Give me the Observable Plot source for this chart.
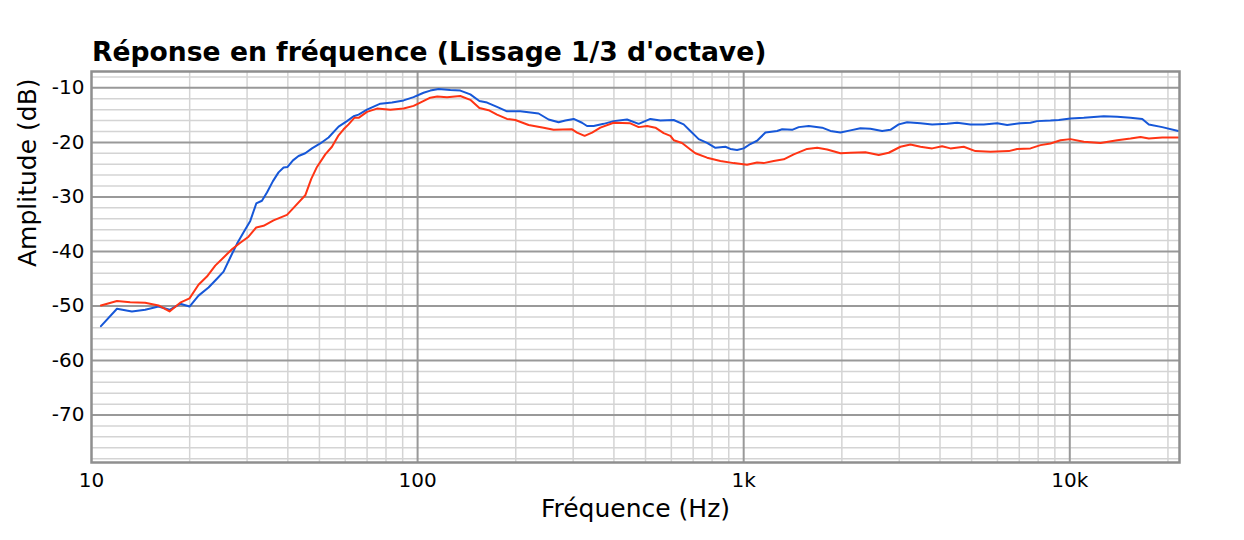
<!DOCTYPE html>
<html>
<head>
<meta charset="utf-8">
<script src="https://cdn.jsdelivr.net/npm/d3@7"></script>
<script src="https://cdn.jsdelivr.net/npm/@observablehq/plot@0.6"></script>
<style>
  body { margin: 0; background: #fff; }
  #wrap { position: relative; width: 1244px; height: 540px; }
  #wrap svg { display: block; position: absolute; left: 0; top: 0; }
  #title { position: absolute; left: 92px; top: 39px; font: bold 26.6px "DejaVu Sans", sans-serif; line-height: 1; color: #000; white-space: nowrap; z-index: 2; }
</style>
</head>
<body>
<div id="wrap"><div id="title">Réponse en fréquence (Lissage 1/3 d'octave)</div></div>
<script>
const titleText = "Réponse en fréquence (Lissage 1/3 d'octave)";
const xLabel = "Fréquence (Hz)";
const yLabel = "Amplitude (dB)";

const xTicks = [10, 100, 1000, 10000];
const xTickLabels = ["10", "100", "1k", "10k"];
const yTicks = [-10, -20, -30, -40, -50, -60, -70];
const yTickLabels = ["-10", "-20", "-30", "-40", "-50", "-60", "-70"];

const freqBlue = [10.69, 11.97, 13.30, 14.61, 16.05, 17.35, 18.71, 19.98, 21.29, 22.85,
  24.25, 25.41, 26.64, 27.93, 29.27, 30.68, 32.01, 33.32, 34.52, 36.01,
  37.46, 38.82, 39.93, 41.48, 43.15, 45.24, 47.44, 50.29, 53.33, 57.24,
  60.74, 63.65, 65.93, 69.95, 76.87, 83.48, 90.60, 97.2, 104.3, 109.4,
  116.0, 126.0, 135.2, 145.1, 154.7, 163.3, 175.2, 188.0, 206.5, 235.0,
  252.2, 270.7, 283.8, 301.0, 319.3, 330.8, 346.7, 372.1, 399.2, 438.8,
  476.4, 517.4, 555.3, 610.0, 654.6, 686.3, 727.8, 772.2, 818.9, 878.9,
  910.4, 954.4, 1000, 1048, 1099, 1166, 1266, 1312, 1408, 1475,
  1583, 1740, 1845, 1980, 2125, 2280, 2447, 2658, 2818, 2988,
  3171, 3484, 3784, 4206, 4514, 4959, 5448, 5988, 6427, 7062,
  7576, 7943, 8726, 9254, 10049, 11040, 12715, 13978, 15356, 16683,
  17475, 19209, 21506];
const dbBlue = [-53.7, -50.5, -51.0, -50.7, -50.1, -50.7, -49.6, -50.1, -48.1, -46.6,
  -45.0, -43.7, -41.1, -38.6, -36.5, -34.4, -31.2, -30.7, -29.2, -27.1,
  -25.5, -24.6, -24.5, -23.3, -22.5, -22.0, -21.1, -20.2, -19.1, -17.1,
  -16.1, -15.2, -14.9, -14.0, -12.9, -12.7, -12.3, -11.7, -10.9, -10.5,
  -10.2, -10.4, -10.5, -11.2, -12.4, -12.7, -13.5, -14.3, -14.3, -14.7,
  -15.8, -16.3, -16.0, -15.7, -16.4, -17.0, -17.0, -16.6, -16.1, -15.8,
  -16.6, -15.7, -16.0, -15.9, -16.7, -17.9, -19.4, -20.1, -21.0, -20.8,
  -21.2, -21.4, -21.1, -20.3, -19.7, -18.2, -17.9, -17.6, -17.7, -17.2,
  -17.0, -17.3, -17.9, -18.2, -17.8, -17.4, -17.5, -17.9, -17.7, -16.7,
  -16.3, -16.5, -16.7, -16.6, -16.4, -16.7, -16.7, -16.5, -16.8, -16.5,
  -16.4, -16.1, -16.0, -15.9, -15.6, -15.5, -15.2, -15.3, -15.5, -15.7,
  -16.7, -17.2, -17.9];

const freqRed = [10.69, 11.97, 13.14, 14.61, 16.05, 17.35, 18.71, 19.98, 21.29, 22.59,
  23.96, 25.41, 26.96, 28.59, 30.31, 32.01, 33.70, 36.16, 37.91, 39.76,
  41.65, 45.24, 47.20, 49.14, 52.11, 54.62, 57.24, 59.30, 61.42, 63.96,
  65.93, 69.95, 75.10, 82.49, 90.60, 97.2, 101.9, 109.4, 114.9, 123.1,
  135.2, 145.1, 154.7, 165.1, 175.2, 188.0, 199.4, 219.0, 243.5, 261.3,
  297.6, 308.3, 325.3, 342.8, 363.4, 399.2, 449.2, 476.4, 505.5, 536.1,
  568.4, 596.1, 610.0, 647.1, 686.3, 711.0, 772.2, 848.3, 931.8, 1024,
  1099, 1151, 1236, 1327, 1424, 1565, 1680, 1803, 1980, 2125,
  2362, 2595, 2785, 3025, 3246, 3484, 3784, 4060, 4306, 4729,
  5136, 5711, 6500, 6897, 7576, 8132, 8726, 9366, 10049, 11040,
  12423, 13978, 15356, 16484, 17475, 19209, 21506];
const dbRed = [-49.9, -49.1, -49.3, -49.4, -49.9, -51.0, -49.4, -48.6, -46.1, -44.6,
  -42.6, -41.1, -39.6, -38.4, -37.3, -35.6, -35.3, -34.3, -33.8, -33.3,
  -32.0, -29.7, -26.7, -24.5, -22.2, -20.8, -18.7, -17.6, -16.7, -15.5,
  -15.5, -14.4, -13.8, -14.0, -13.8, -13.3, -12.7, -11.8, -11.6, -11.7,
  -11.5, -12.2, -13.7, -14.1, -14.9, -15.7, -15.9, -16.8, -17.3, -17.7,
  -17.6, -18.2, -18.8, -18.2, -17.3, -16.4, -16.5, -17.2, -17.0, -17.3,
  -18.3, -18.8, -19.6, -20.1, -21.3, -22.0, -22.8, -23.4, -23.8, -24.1,
  -23.7, -23.8, -23.4, -23.1, -22.2, -21.2, -21.0, -21.3, -22.0, -21.9,
  -21.8, -22.3, -21.9, -20.8, -20.4, -20.8, -21.1, -20.7, -21.1, -20.8,
  -21.6, -21.7, -21.6, -21.2, -21.1, -20.5, -20.2, -19.6, -19.4, -19.9,
  -20.1, -19.6, -19.3, -19.0, -19.3, -19.1, -19.1];

const blue = freqBlue.map((f, i) => ({f, db: dbBlue[i]}));
const red = freqRed.map((f, i) => ({f, db: dbRed[i]}));

const minorX = [];
for (const dec of [10, 100, 1000, 10000]) for (let m = 2; m <= 9; m++) if (dec * m < 21700) minorX.push(dec * m);
const minorY = d3.range(-78, -7, 2).filter(v => v % 10 !== 0);

const xLab = new Map(xTicks.map((t, i) => [t, xTickLabels[i]]));
const yLab = new Map(yTicks.map((t, i) => [t, yTickLabels[i]]));

const chart = Plot.plot({
  width: 1244,
  height: 540,
  marginLeft: 91,
  marginRight: 65,
  marginTop: 71,
  marginBottom: 78,
  style: {fontFamily: "'DejaVu Sans', sans-serif", fontSize: "20px", color: "#000", background: "#fff"},
  x: {type: "log", domain: [10, 21700], label: null},
  y: {domain: [-78.7, -7], label: null},
  marks: [
    Plot.ruleX(minorX, {stroke: "#d4d4d4", strokeWidth: 1.5}),
    Plot.ruleY(minorY, {stroke: "#d4d4d4", strokeWidth: 1.5}),
    Plot.ruleX(xTicks.slice(1), {stroke: "#999", strokeWidth: 2}),
    Plot.ruleY(yTicks, {stroke: "#999", strokeWidth: 2}),
    Plot.line(blue, {x: "f", y: "db", stroke: "#1657d8", strokeWidth: 2}),
    Plot.line(red, {x: "f", y: "db", stroke: "#ff3414", strokeWidth: 2}),
    Plot.frame({stroke: "#8f8f8f", strokeWidth: 2.5}),
    Plot.axisX(xTicks, {tickSize: 0, tickPadding: 10, tickFormat: d => xLab.get(d), fontSize: 20, label: null}),
    Plot.axisY(yTicks, {tickSize: 0, tickPadding: 7, tickFormat: d => yLab.get(d), fontSize: 20, label: null}),
    Plot.text([xLabel], {frameAnchor: "bottom", dy: 46, lineAnchor: "middle", fontSize: 25, fill: "#000"}),
    Plot.text([yLabel], {frameAnchor: "left", dx: -64, rotate: -90, lineAnchor: "middle", fontSize: 25, fill: "#000"})
  ]
});
document.getElementById("wrap").prepend(chart);
document.getElementById("title").textContent = titleText;
</script>
</body>
</html>
